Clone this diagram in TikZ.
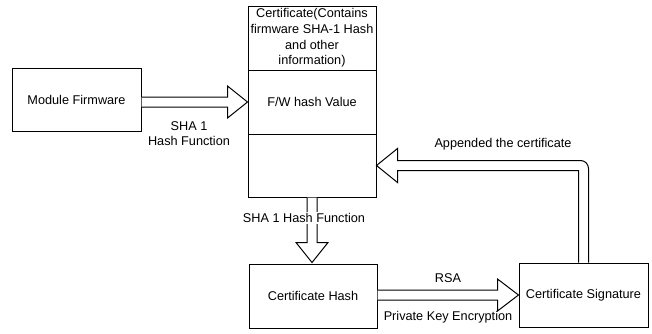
\documentclass[tikz,border=0pt]{standalone}
\usepackage{fontspec}
\setmainfont{Liberation Sans}
\usetikzlibrary{calc}
\begin{document}
\begin{tikzpicture}[x=1pt,y=-1pt,
  txt/.style={font=\fontsize{12.7}{15.6}\selectfont},
  box/.style={txt, draw, line width=1pt, inner sep=0pt, align=center},
  barrow/.style={draw, line width=1pt, fill=white, line join=miter},
  lbl/.style={txt, inner sep=1pt, align=center}]
\useasboundingbox (0,0) rectangle (652,333);
% boxes
\node[box, minimum width=129pt, minimum height=63pt] (mf) at (76.5,99.5) {Module Firmware};
\node[box, minimum width=128pt, minimum height=64pt] (cert) at (312,38) {Certificate(Contains\\firmware SHA-1 Hash\\and other\\information)};
\node[box, minimum width=128pt, minimum height=64pt] (fw) at (312,102) {F/W hash Value};
\node[box, minimum width=128pt, minimum height=63pt] (bot) at (312,165.5) {};
\node[box, minimum width=128pt, minimum height=64pt] (ch) at (313,296) {Certificate Hash};
\node[box, minimum width=129pt, minimum height=64pt] (cs) at (583.5,295) {Certificate Signature};
% arrow firmware -> F/W hash
\draw[barrow] ($(mf.east |- fw.west)+(0,-5)$) -- ($(fw.west)+(-20,-5)$) -- ($(fw.west)+(-20,-16)$)
  -- (fw.west) -- ($(fw.west)+(-20,16)$) -- ($(fw.west)+(-20,5)$) -- ($(mf.east |- fw.west)+(0,5)$);
% arrow certificate -> certificate hash
\coordinate (dt) at ($(ch.north -| bot.south)+(0,-1)$);
\draw[barrow] ($(bot.south)+(-5,0)$) -- ($(dt)+(-5,-20)$) -- ($(dt)+(-16,-20)$) -- (dt)
  -- ($(dt)+(16,-20)$) -- ($(dt)+(5,-20)$) -- ($(bot.south)+(5,0)$);
% arrow certificate hash -> signature
\draw[barrow] ($(ch.east |- cs.west)+(0,-5)$) -- ($(cs.west)+(-21,-5)$) -- ($(cs.west)+(-21,-16)$)
  -- (cs.west) -- ($(cs.west)+(-21,16)$) -- ($(cs.west)+(-21,5)$) -- ($(ch.east |- cs.west)+(0,5)$);
% arrow signature -> certificate (bent)
\coordinate (rc) at (cs.north |- bot.east);
\draw[barrow] ($(cs.north)+(-5,0)$) -- ($(rc)+(-5,5)$) -- ($(bot.east)+(21,5)$) -- ($(bot.east)+(21,17)$)
  -- (bot.east) -- ($(bot.east)+(21,-17)$) -- ($(bot.east)+(21,-5)$)
  [rounded corners=8pt] -- ($(rc)+(5,-5)$) [sharp corners] -- ($(cs.north)+(5,0)$);
% labels
\node[lbl] (l1) at (189,133.5) {SHA 1\\Hash Function};
\node[lbl, fill=white] (l2) at (304,218) {SHA 1 Hash Function};
\node[lbl] (l3) at (448,278) {RSA};
\node[lbl] (l4) at (448,317) {Private Key Encryption};
\node[lbl] (l5) at (503,144) {Appended the certificate};
\end{tikzpicture}
\end{document}
